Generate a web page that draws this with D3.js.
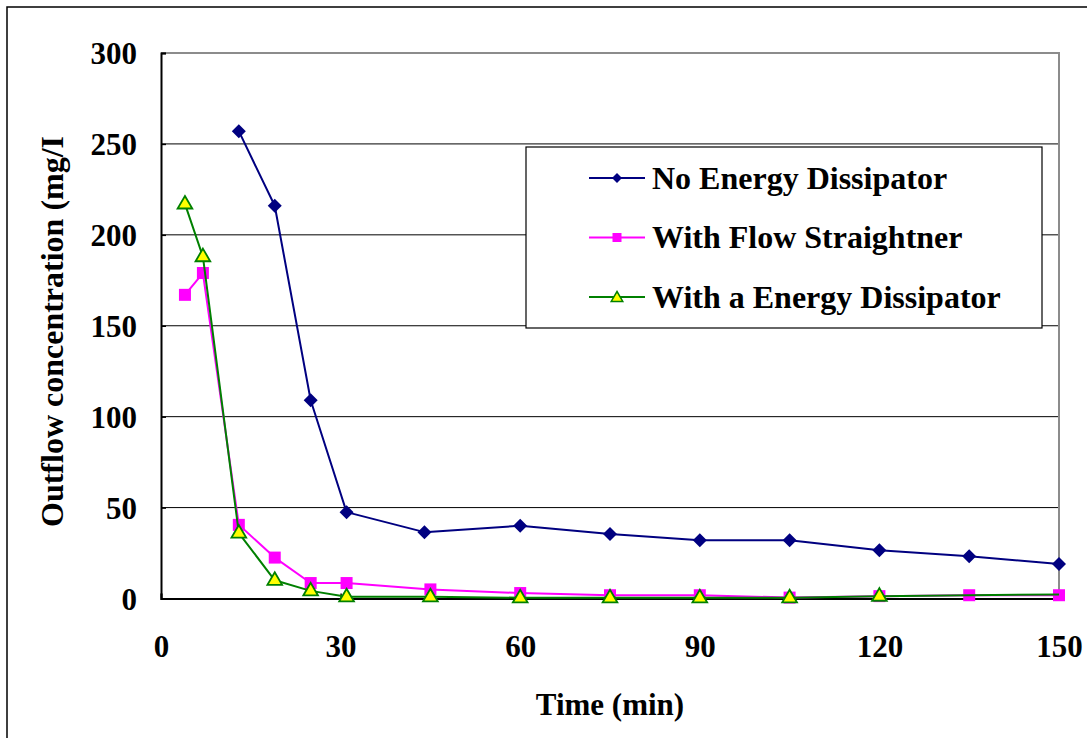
<!DOCTYPE html>
<html>
<head>
<meta charset="utf-8">
<script src="https://cdn.jsdelivr.net/npm/d3@7/dist/d3.min.js"></script>
<style>
  html, body { margin: 0; padding: 0; background: #fff; }
  svg { display: block; }
  text { font-family: "Liberation Serif", "Times New Roman", serif; font-weight: bold; fill: #000; }
</style>
</head>
<body>
<svg id="chart" width="1087" height="738"></svg>
<script>
// Outflow concentration over time for three inlet configurations
const xTicks = [0, 30, 60, 90, 120, 150];
const yTicks = [0, 50, 100, 150, 200, 250, 300];

const noDissipatorTime  = [13, 19, 25, 31, 44, 60, 75, 90, 105, 120, 135, 150];
const noDissipatorValue = [257, 216, 109, 47.5, 36.5, 40, 35.5, 32, 32, 26.5, 23.3, 19];

const straightnerTime  = [4, 7, 13, 19, 25, 31, 45, 60, 75, 90, 105, 120, 135, 150];
const straightnerValue = [167, 179, 40.5, 22.5, 8.5, 8.5, 5, 3, 1.8, 1.8, 0.5, 1.3, 1.8, 1.8];

const dissipatorTime  = [4, 7, 13, 19, 25, 31, 45, 60, 75, 90, 105, 120, 135, 150];
const dissipatorValue = [217, 188, 36, 10, 4.2, 1, 1, 0.4, 0.4, 0.4, 0.4, 1.3, 1.8, 2.2];
// last sampled time that carries a marker on the dissipator series
const dissipatorMarkerUntil = 120;

const seriesNames = ["No Energy Dissipator", "With Flow Straightner", "With a Energy Dissipator"];

const svg = d3.select("#chart");
const W = 1087, H = 738;
const plot = { left: 161, right: 1059, top: 53, bottom: 598.5 };

const x = d3.scaleLinear().domain([0, 150]).range([plot.left, plot.right]);
const y = d3.scaleLinear().domain([0, 300]).range([plot.bottom, plot.top]);

// outer chart frame (runs past the right and bottom edges)
svg.append("path")
  .attr("d", `M7,${H + 5} L7,7 L${W + 5},7`)
  .attr("fill", "none").attr("stroke", "#000").attr("stroke-width", 1.5);

// horizontal gridlines
svg.append("g")
  .selectAll("line")
  .data(yTicks.filter(d => d > 0 && d < 300))
  .join("line")
  .attr("x1", plot.left).attr("x2", plot.right)
  .attr("y1", d => y(d)).attr("y2", d => y(d))
  .attr("stroke", "#000").attr("stroke-width", 1);

// plot-area frame: grey top/right
svg.append("path")
  .attr("d", `M${plot.left},${plot.top} L${plot.right},${plot.top} L${plot.right},${plot.bottom}`)
  .attr("fill", "none").attr("stroke", "#8c8c8c").attr("stroke-width", 2);

// axes with inward ticks
const yAxis = d3.axisLeft(y).tickValues(yTicks).tickSize(-5).tickPadding(24).tickFormat(d3.format("d"));
const gy = svg.append("g").attr("transform", `translate(${plot.left},0)`).call(yAxis);
gy.select(".domain").attr("stroke", "#000").attr("stroke-width", 2);
gy.selectAll(".tick line").attr("stroke", "#000").attr("stroke-width", 1.5);
gy.selectAll(".tick text")
  .attr("font-size", 31).attr("font-family", "Liberation Serif").attr("font-weight", "bold")
  .attr("dy", "0.34em").attr("text-anchor", "end");

const xAxis = d3.axisBottom(x).tickValues(xTicks).tickSize(-5).tickPadding(36).tickFormat(d3.format("d"));
const gx = svg.append("g").attr("transform", `translate(0,${plot.bottom})`).call(xAxis);
gx.select(".domain").attr("stroke", "#000").attr("stroke-width", 2);
gx.selectAll(".tick line").attr("stroke", "#000").attr("stroke-width", 1.5);
gx.selectAll(".tick text")
  .attr("font-size", 31).attr("font-family", "Liberation Serif").attr("font-weight", "bold")
  .attr("dy", "0.71em");

// axis titles
svg.append("text")
  .attr("x", (plot.left + plot.right) / 2).attr("y", 715)
  .attr("text-anchor", "middle").attr("font-size", 31)
  .text("Time (min)");

svg.append("text")
  .attr("transform", "translate(63,527) rotate(-90)")
  .attr("text-anchor", "start").attr("font-size", 32)
  .text("Outflow concentration (mg/I");

// series drawing
const line = d3.line().x(d => x(d.t)).y(d => y(d.v));
const zip = (ts, vs) => ts.map((t, i) => ({ t, v: vs[i] }));

const navyData = zip(noDissipatorTime, noDissipatorValue);
const pinkData = zip(straightnerTime, straightnerValue);
const greenData = zip(dissipatorTime, dissipatorValue);

const diamond = s => `M0,${-s} L${s},0 L0,${s} L${-s},0 Z`;
const square = s => `M${-s},${-s} H${s} V${s} H${-s} Z`;
const triangle = s => `M0,${-s} L${s * 1.05},${s * 0.8} L${-s * 1.05},${s * 0.8} Z`;

function drawSeries(data, color, markerPath, fill, stroke, strokeW) {
  svg.append("path").datum(data)
    .attr("d", line).attr("fill", "none")
    .attr("stroke", color).attr("stroke-width", 2).attr("stroke-linejoin", "round");
  return svg.append("g").selectAll("path")
    .data(data)
    .join("path")
    .attr("transform", d => `translate(${x(d.t)},${y(d.v)})`)
    .attr("d", markerPath)
    .attr("fill", fill).attr("stroke", stroke).attr("stroke-width", strokeW);
}

drawSeries(navyData, "#000080", diamond(7), "#000080", "none", 0);
drawSeries(pinkData, "#ff00ff", square(6), "#ff00ff", "none", 0);
svg.append("path").datum(greenData)
  .attr("d", line).attr("fill", "none")
  .attr("stroke", "#008000").attr("stroke-width", 2).attr("stroke-linejoin", "round");
svg.append("g").selectAll("path")
  .data(greenData.filter(d => d.t <= dissipatorMarkerUntil))
  .join("path")
  .attr("transform", d => `translate(${x(d.t)},${y(d.v) - 1})`)
  .attr("d", triangle(7))
  .attr("fill", "#ffff00").attr("stroke", "#008000").attr("stroke-width", 1.8);

// legend
const legend = svg.append("g");
legend.append("rect")
  .attr("x", 526).attr("y", 147).attr("width", 516).attr("height", 181)
  .attr("fill", "#fff").attr("stroke", "#000").attr("stroke-width", 1.2);

const legendItems = [
  { name: seriesNames[0], color: "#000080", marker: diamond(5), fill: "#000080", stroke: "none", sw: 0 },
  { name: seriesNames[1], color: "#ff00ff", marker: square(4.5), fill: "#ff00ff", stroke: "none", sw: 0 },
  { name: seriesNames[2], color: "#008000", marker: triangle(5.5), fill: "#ffff00", stroke: "#008000", sw: 1.5 }
];
const rowY = d3.scalePoint().domain(seriesNames).range([178, 297]);
const rows = legend.selectAll("g.row").data(legendItems).join("g")
  .attr("transform", d => `translate(0,${rowY(d.name)})`);
rows.append("line")
  .attr("x1", 589).attr("x2", 645).attr("y1", 0).attr("y2", 0)
  .attr("stroke", d => d.color).attr("stroke-width", 2);
rows.append("path")
  .attr("transform", "translate(617,0)")
  .attr("d", d => d.marker)
  .attr("fill", d => d.fill).attr("stroke", d => d.stroke).attr("stroke-width", d => d.sw);
rows.append("text")
  .attr("x", 652).attr("y", 0).attr("dy", "0.33em")
  .attr("font-size", 32)
  .text(d => d.name);
</script>
</body>
</html>
